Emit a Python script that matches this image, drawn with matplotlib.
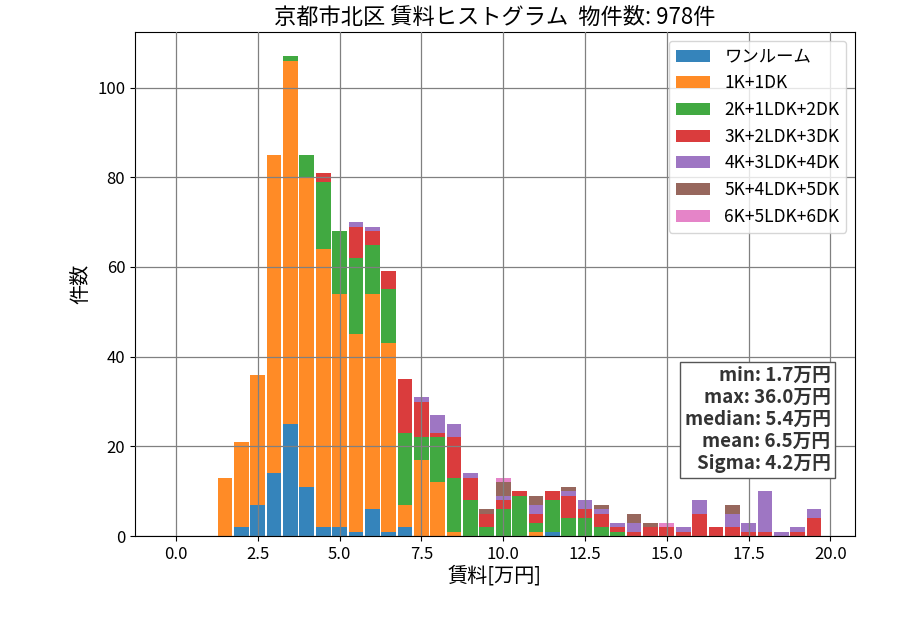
import numpy as np
import matplotlib
matplotlib.use("Agg")
import matplotlib.pyplot as plt

plt.rcParams['font.family'] = ['Noto Sans CJK JP', 'DejaVu Sans']

centers = [1.5, 2.0, 2.5, 3.0, 3.5, 4.0, 4.5, 5.0, 5.5, 6.0, 6.5, 7.0, 7.5, 8.0,
           8.5, 9.0, 9.5, 10.0, 10.5, 11.0, 11.5, 12.0, 12.5, 13.0, 13.5, 14.0,
           14.5, 15.0, 15.5, 16.0, 16.5, 17.0, 17.5, 18.0, 18.5, 19.0, 19.5]

labels = ['ワンルーム', '1K+1DK', '2K+1LDK+2DK', '3K+2LDK+3DK',
          '4K+3LDK+4DK', '5K+4LDK+5DK', '6K+5LDK+6DK']

one_room = [0, 2, 7, 14, 25, 11, 2, 2, 1, 6, 1, 2, 0, 0, 0, 0, 0, 0, 0, 0, 1,
            0, 0, 0, 0, 0, 0, 0, 0, 0, 0, 0, 0, 0, 0, 0, 0]
k1 = [13, 19, 29, 71, 81, 69, 62, 52, 44, 48, 42, 5, 17, 12, 1, 0, 0, 0, 0, 1, 0,
      0, 0, 0, 0, 0, 0, 0, 0, 0, 0, 0, 0, 0, 0, 0, 0]
k2 = [0, 0, 0, 0, 1, 5, 15, 14, 17, 11, 12, 16, 5, 10, 12, 8, 2, 6, 9, 2, 7,
      4, 4, 2, 1, 0, 0, 0, 0, 0, 0, 0, 0, 0, 0, 0, 0]
k3 = [0, 0, 0, 0, 0, 0, 2, 0, 7, 3, 4, 12, 8, 1, 9, 5, 3, 2, 1, 2, 2,
      5, 2, 3, 1, 1, 2, 2, 1, 5, 2, 2, 1, 1, 0, 1, 4]
k4 = [0, 0, 0, 0, 0, 0, 0, 0, 1, 1, 0, 0, 1, 4, 3, 1, 0, 1, 0, 2, 0,
      1, 2, 1, 1, 2, 0, 0, 1, 3, 0, 3, 2, 9, 1, 1, 2]
k5 = [0, 0, 0, 0, 0, 0, 0, 0, 0, 0, 0, 0, 0, 0, 0, 0, 1, 3, 0, 2, 0,
      1, 0, 1, 0, 2, 1, 0, 0, 0, 0, 2, 0, 0, 0, 0, 0]
k6 = [0, 0, 0, 0, 0, 0, 0, 0, 0, 0, 0, 0, 0, 0, 0, 0, 0, 1, 0, 0, 0,
      0, 0, 0, 0, 0, 0, 1, 0, 0, 0, 0, 0, 0, 0, 0, 0]

series = [one_room, k1, k2, k3, k4, k5, k6]
colors = ['#1f77b4', '#ff7f0e', '#2ca02c', '#d62728', '#9467bd', '#8c564b', '#e377c2']

stats_text = "min: 1.7万円\nmax: 36.0万円\nmedian: 5.4万円\nmean: 6.5万円\nSigma: 4.2万円"
title = "京都市北区 賃料ヒストグラム  物件数: 978件"

fig = plt.figure(figsize=(9, 6.3), dpi=100)
ax = fig.add_axes([0.15, 0.149, 0.80, 0.80])

bottom = np.zeros(len(centers))
for vals, lab, col in zip(series, labels, colors):
    v = np.array(vals, dtype=float)
    ax.bar(centers, v, width=0.45, bottom=bottom, color=col, alpha=0.9,
           label=lab, align='center')
    bottom += v

ax.set_xlim(-1.25, 20.75)
ax.set_ylim(0, 107 * 1.05)
ax.set_axisbelow(False)
ax.grid(True, color='gray', linewidth=0.9)
ax.tick_params(labelsize=12)

ax.set_title(title, fontsize=16, pad=6)
ax.set_xlabel("賃料[万円]", fontsize=14.5, labelpad=2)
ax.set_ylabel("件数", fontsize=14.5)

leg = ax.legend(loc='upper right', fontsize=12.5, handlelength=2.0)

ax.text(0.966, 0.337, stats_text, transform=ax.transAxes, ha='right', va='top',
        fontsize=13.5, fontweight='bold', color='#333333', linespacing=1.2,
        bbox=dict(boxstyle='square,pad=0.25', facecolor='white', edgecolor='#555555'))

fig.savefig("out.png", dpi=100)
